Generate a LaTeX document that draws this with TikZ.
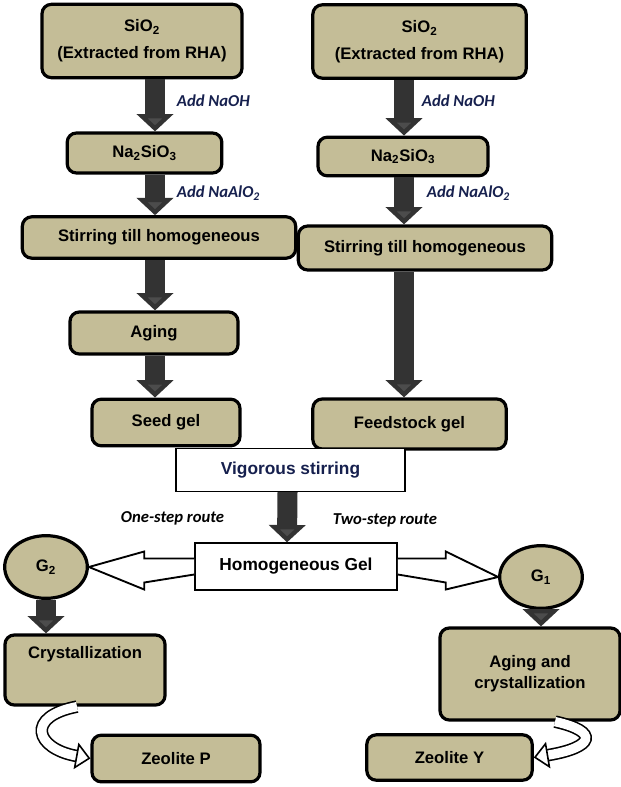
\documentclass[tikz,border=0pt]{standalone}
\usepackage{fontspec}
\setmainfont{Liberation Sans}
\newfontfamily\labfont{Carlito}
\usetikzlibrary{arrows.meta,calc,shapes.geometric}
\definecolor{tan}{RGB}{196,189,151}
\definecolor{navy}{RGB}{22,32,78}
\tikzset{every picture/.style={line width=0.75pt}}

\begin{document}
\begin{tikzpicture}[x=0.75pt,y=0.75pt,yscale=-1,xscale=1,
  box/.style={draw=black,fill=tan,line width=2.4pt,rounded corners=7pt,
    font=\fontsize{12.5}{14}\selectfont\bfseries,align=center,inner sep=2pt},
  plain/.style={draw=black,fill=white,line width=1.2pt,
    font=\fontsize{13}{15}\selectfont\bfseries,align=center},
  blob/.style={box,ellipse,rounded corners=0pt,inner sep=0pt,minimum width=62pt,minimum height=47pt},
  blk/.style={draw=black!80,line width=15pt,
    -{Triangle[width=27pt,length=13pt,fill=black!70]}},
  route/.style={font=\labfont\bfseries\itshape\fontsize{12.5}{14}\selectfont,anchor=west},
  curv/.style={double=white,double distance=7pt,line width=1.2pt,
    -{Triangle[open,width=20pt,length=11pt,fill=white]}}]
\useasboundingbox (0,0) rectangle (620,787);

\coordinate (colL) at (155,0);
\coordinate (colR) at (404,0);

% left column
\node[box,minimum width=150pt,minimum height=55pt] (sioL) at (142,41) {SiO\textsubscript{2}\\[6pt](Extracted from RHA)};
\node[box,minimum width=116pt,minimum height=30pt] (naL) at (144.5,153) {Na\textsubscript{2}SiO\textsubscript{3}};
\node[box,minimum width=205pt,minimum height=31pt] (stL) at (159,237.5) {Stirring till homogeneous};
\node[box,minimum width=126pt,minimum height=31.5pt] (aging) at (154,333) {Aging};
\node[box,minimum width=111pt,minimum height=35pt] (seed) at (166,422.5) {Seed gel};

% right column
\node[box,minimum width=160pt,minimum height=55pt] (sioR) at (419.5,41.5) {SiO\textsubscript{2}\\[6pt](Extracted from RHA)};
\node[box,minimum width=127.5pt,minimum height=29pt] (naR) at (403,156.5) {Na\textsubscript{2}SiO\textsubscript{3}};
\node[box,minimum width=190pt,minimum height=33pt] (stR) at (425,248) {Stirring till homogeneous};
\node[box,minimum width=145pt,minimum height=37.5pt] (feed) at (409.5,424) {Feedstock gel};

% middle
\node[plain,minimum width=172pt,minimum height=32pt,text=navy] (vig) at (290.5,470) {Vigorous stirring};
\node[plain,minimum width=151.5pt,minimum height=35pt] (hg) at (296,566.5) {Homogeneous Gel};
\node[blob] (g2) at (46,567) {G\textsubscript{2}};
\node[blob] (g1) at (541,577) {G\textsubscript{1}};

% bottom
\node[box,minimum width=120pt,minimum height=52.5pt] (cry) at (85,670) {Crystallization\\[12pt]};
\node[box,minimum width=135pt,minimum height=69pt] (agc) at (530,674) {Aging and\\[2pt]crystallization};
\node[box,minimum width=126pt,minimum height=35pt] (zp) at (176,758.5) {Zeolite P};
\node[box,minimum width=124pt,minimum height=34pt] (zy) at (449.5,757.5) {Zeolite Y};

% block arrows
\draw[blk] (sioL.south -| colL) -- (naL.north -| colL);
\draw[blk] (naL.south -| colL) -- (stL.north -| colL);
\draw[blk] (stL.south -| colL) -- (aging.north -| colL);
\draw[blk] (aging.south -| colL) -- (seed.north -| colL);
\draw[blk] (sioR.south -| colR) -- (naR.north -| colR);
\draw[blk] (naR.south -| colR) -- (stR.north -| colR);
\draw[blk] (stR.south -| colR) -- (feed.north -| colR);
\draw[blk] ($(vig.south)+(-3,0)$) -- ($(hg.north)+(-9,0)$);
\draw[blk] (g2.south) -- (cry.north -| g2.south);
\draw[blk] (g1.south) -- (agc.north -| g1.south);

% hollow arrows
\draw[line width=1.4pt,fill=white] ($(hg.west)+(0,-8)$) -- ++(-50,0) -- ++(0,-7) -- (g2.east) -- ($(hg.west)+(-50,23)$) -- ++(0,-7) -- ($(hg.west)+(0,8)$);
\draw[line width=1.4pt,fill=white] ($(hg.east)+(0,-8)$) -- ++(48,0) -- ++(0,-7) -- (g1.west) -- ($(hg.east)+(48,23)$) -- ++(0,-7) -- ($(hg.east)+(0,8)$);

% curved arrows
\draw[curv] ($(cry.south)+(-8,0)$) .. controls ($(cry.south)+(-60,10)$) and ($(zp.west)+(-55,-10)$) .. (zp.west);
\draw[curv] ($(agc.south)+(25,0)$) .. controls ($(agc.south)+(70,10)$) and ($(zy.east)+(60,-10)$) .. (zy.east);

% labels
\node[route,text=navy] (l1) at (172,101) {Add NaOH};
\node[route,text=navy] (l2) at (172,193) {Add NaAlO\textsubscript{2}};
\node[route,text=navy] (l3) at (417,101) {Add NaOH};
\node[route,text=navy] (l4) at (422,193) {Add NaAlO\textsubscript{2}};
\node[route] (r1) at (116,518) {One-step route};
\node[route] (r2) at (328,520) {Two-step route};
\end{tikzpicture}
\end{document}
